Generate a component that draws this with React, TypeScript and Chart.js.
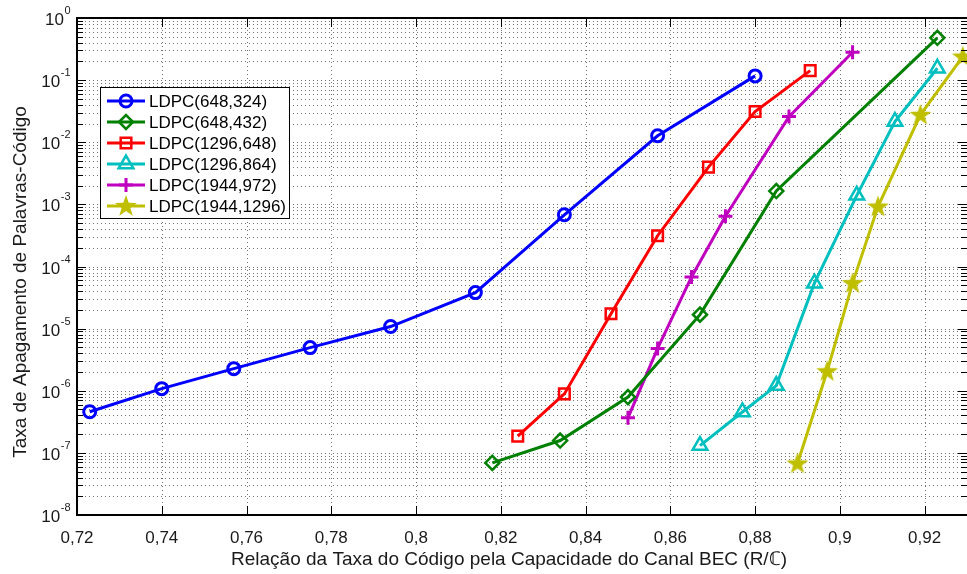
import React, { useEffect, useRef } from 'react';
import { Chart, registerables } from 'chart.js';
import { drawPoint } from 'chart.js/helpers';

Chart.register(...registerables);

const FONT = '"Liberation Sans", Arial, Helvetica, sans-serif';

const xMin = 0.72;
const xMax = 0.93;
const xTicks = [0.72, 0.74, 0.76, 0.78, 0.8, 0.82, 0.84, 0.86, 0.88, 0.9, 0.92];
const xTickLabels = ['0,72', '0,74', '0,76', '0,78', '0,8', '0,82', '0,84', '0,86', '0,88', '0,9', '0,92'];
const yExponents = [0, -1, -2, -3, -4, -5, -6, -7, -8];

const xTitle = 'Relação da Taxa do Código pela Capacidade do Canal BEC (R/ℂ)';
const yTitle = 'Taxa de Apagamento de Palavras-Código';

const seriesNames = [
  'LDPC(648,324)',
  'LDPC(648,432)',
  'LDPC(1296,648)',
  'LDPC(1296,864)',
  'LDPC(1944,972)',
  'LDPC(1944,1296)',
];

const x648_324 = [0.723, 0.74, 0.757, 0.775, 0.794, 0.814, 0.835, 0.857, 0.88];
const y648_324 = [4.6e-7, 1.08e-6, 2.27e-6, 4.95e-6, 1.08e-5, 3.8e-5, 6.8e-4, 1.27e-2, 0.117];

const x648_432 = [0.818, 0.834, 0.85, 0.867, 0.885, 0.923];
const y648_432 = [6.9e-8, 1.58e-7, 7.9e-7, 1.68e-5, 1.64e-3, 0.48];

const x1296_648 = [0.824, 0.835, 0.846, 0.857, 0.869, 0.88, 0.893];
const y1296_648 = [1.86e-7, 8.9e-7, 1.74e-5, 3.13e-4, 3.98e-3, 0.0312, 0.142];

const x1296_864 = [0.867, 0.877, 0.885, 0.894, 0.904, 0.913, 0.923];
const y1296_864 = [1.31e-7, 4.55e-7, 1.21e-6, 5.4e-5, 1.4e-3, 0.0215, 0.155];

const x1944_972 = [0.85, 0.857, 0.865, 0.873, 0.888, 0.903];
const y1944_972 = [3.67e-7, 4.8e-6, 6.8e-5, 6.46e-4, 0.0259, 0.281];

const x1944_1296 = [0.89, 0.897, 0.903, 0.909, 0.919, 0.929];
const y1944_1296 = [6.76e-8, 2.06e-6, 5.4e-5, 9.2e-4, 0.0276, 0.239];

const seriesX = [x648_324, x648_432, x1296_648, x1296_864, x1944_972, x1944_1296];
const seriesY = [y648_324, y648_432, y1296_648, y1296_864, y1944_972, y1944_1296];
const seriesColors = ['#0000ff', '#008000', '#ff0000', '#00bfbf', '#bf00bf', '#bfbf00'];

function makeStar(color: string): HTMLCanvasElement {
  const c = document.createElement('canvas');
  c.width = 24;
  c.height = 24;
  const g = c.getContext('2d')!;
  const cx = 12, cy = 12.5, R = 11.5, r = 4.6;
  g.beginPath();
  for (let i = 0; i < 10; i++) {
    const ang = -Math.PI / 2 + (i * Math.PI) / 5;
    const rad = i % 2 === 0 ? R : r;
    const px = cx + rad * Math.cos(ang);
    const py = cy + rad * Math.sin(ang);
    if (i === 0) g.moveTo(px, py);
    else g.lineTo(px, py);
  }
  g.closePath();
  g.fillStyle = color;
  g.fill();
  return c;
}

export default function App() {
  const ref = useRef<HTMLCanvasElement>(null);

  useEffect(() => {
    document.body.style.margin = '0';
    const canvas = ref.current!;
    const star = makeStar(seriesColors[5]);

    const pointStyles: any[] = ['circle', 'rectRot', 'rect', 'triangle', 'cross', star];
    const pointRadii = [6, 7, 7.5, 8.5, 7, 11];
    const pointBorders = [3, 2.5, 2.5, 2.5, 3, 1];

    const datasets = seriesNames.map((name, i) => ({
      label: name,
      data: seriesX[i].map((xv, j) => ({ x: xv, y: seriesY[i][j] })),
      showLine: true,
      borderColor: seriesColors[i],
      backgroundColor: 'rgba(0,0,0,0)',
      borderWidth: 3,
      pointStyle: pointStyles[i],
      pointRadius: pointRadii[i],
      pointBorderWidth: pointBorders[i],
      pointBorderColor: seriesColors[i],
      pointBackgroundColor: 'rgba(0,0,0,0)',
      tension: 0,
    }));

    const axesPlugin = {
      id: 'matlabAxes',
      beforeDatasetsDraw(chart: any) {
        const { ctx, chartArea: a, scales } = chart;
        const xs = scales.x, ys = scales.y;
        ctx.save();
        ctx.lineWidth = 1;
        ctx.setLineDash([1, 3]);
        ctx.strokeStyle = 'rgba(0,0,0,0.55)';
        for (const t of xTicks) {
          const px = Math.round(xs.getPixelForValue(t)) + 0.5;
          if (px <= a.left + 2) continue;
          ctx.beginPath();
          ctx.moveTo(px, a.top);
          ctx.lineTo(px, a.bottom);
          ctx.stroke();
        }
        for (let e = -8; e <= -1; e++) {
          for (let k = 1; k <= 9; k++) {
            if (e === -8 && k === 1) continue;
            const v = k * Math.pow(10, e);
            const py = Math.round(ys.getPixelForValue(v)) + 0.5;
            ctx.beginPath();
            ctx.moveTo(a.left, py);
            ctx.lineTo(a.right, py);
            ctx.stroke();
          }
        }
        ctx.restore();
      },
      afterDatasetsDraw(chart: any) {
        const { ctx, chartArea: a, scales } = chart;
        const xs = scales.x, ys = scales.y;
        ctx.save();
        ctx.setLineDash([]);
        // ticks
        ctx.strokeStyle = '#000';
        ctx.lineWidth = 1;
        for (const t of xTicks) {
          const px = Math.round(xs.getPixelForValue(t)) + 0.5;
          ctx.beginPath();
          ctx.moveTo(px, a.bottom);
          ctx.lineTo(px, a.bottom - 9);
          ctx.moveTo(px, a.top);
          ctx.lineTo(px, a.top + 9);
          ctx.stroke();
        }
        for (let e = -8; e <= 0; e++) {
          for (let k = 1; k <= 9; k++) {
            if (e === 0 && k > 1) continue;
            const v = k * Math.pow(10, e);
            const py = Math.round(ys.getPixelForValue(v)) + 0.5;
            const len = k === 1 ? 9 : 6;
            ctx.beginPath();
            ctx.moveTo(a.left, py);
            ctx.lineTo(a.left + len, py);
            ctx.moveTo(a.right, py);
            ctx.lineTo(a.right - len, py);
            ctx.stroke();
          }
        }
        // frame
        ctx.lineWidth = 2;
        ctx.beginPath();
        ctx.moveTo(a.right, a.top);
        ctx.lineTo(a.left, a.top);
        ctx.lineTo(a.left, a.bottom);
        ctx.lineTo(a.right, a.bottom);
        ctx.stroke();

        // x tick labels
        ctx.fillStyle = '#1a1a1a';
        ctx.font = `17px ${FONT}`;
        ctx.textAlign = 'center';
        ctx.textBaseline = 'alphabetic';
        xTicks.forEach((t, i) => {
          const px = xs.getPixelForValue(t);
          ctx.fillText(xTickLabels[i], px, 543);
        });

        // y tick labels
        ctx.textAlign = 'left';
        for (const e of yExponents) {
          const py = ys.getPixelForValue(Math.pow(10, e));
          ctx.font = `17px ${FONT}`;
          const w10 = ctx.measureText('10').width;
          ctx.font = `11px ${FONT}`;
          const expText = e === 0 ? '0' : '-' + String(-e);
          const we = ctx.measureText(expText).width;
          const right = 70;
          const left = right - we - w10;
          ctx.font = `17px ${FONT}`;
          ctx.fillText('10', left, py + 7);
          ctx.font = `11px ${FONT}`;
          ctx.fillText(expText, left + w10 + 0.5, py - 4);
        }

        // titles
        ctx.font = `19px ${FONT}`;
        ctx.textAlign = 'center';
        ctx.fillText(xTitle, 509, 565);
        ctx.save();
        ctx.translate(26, 282);
        ctx.rotate(-Math.PI / 2);
        ctx.fillText(yTitle, 0, 0);
        ctx.restore();

        // legend
        const lx = 100, ly = 87, lw = 189, lh = 131;
        ctx.fillStyle = '#fff';
        ctx.fillRect(lx, ly, lw, lh);
        ctx.strokeStyle = '#000';
        ctx.lineWidth = 1;
        ctx.strokeRect(lx + 0.5, ly + 0.5, lw, lh);
        seriesNames.forEach((name, i) => {
          const ry = 101 + i * 21;
          ctx.strokeStyle = seriesColors[i];
          ctx.lineWidth = 3;
          ctx.beginPath();
          ctx.moveTo(107, ry);
          ctx.lineTo(145, ry);
          ctx.stroke();
          ctx.fillStyle = 'rgba(0,0,0,0)';
          ctx.strokeStyle = seriesColors[i];
          ctx.lineWidth = pointBorders[i];
          drawPoint(ctx, {
            pointStyle: pointStyles[i],
            rotation: 0,
            radius: pointRadii[i],
            borderWidth: pointBorders[i],
          } as any, 126, ry);
          ctx.fillStyle = '#000';
          ctx.font = `17px ${FONT}`;
          ctx.textAlign = 'left';
          ctx.fillText(name, 149, ry + 6);
        });
        ctx.restore();
      },
    };

    const chart = new Chart(canvas, {
      type: 'scatter',
      data: { datasets: datasets as any },
      options: {
        animation: false,
        responsive: false,
        devicePixelRatio: 1,
        events: [],
        layout: { autoPadding: false, padding: { top: 18, left: 0, right: 0, bottom: 0 } },
        plugins: {
          legend: { display: false },
          title: { display: false },
          tooltip: { enabled: false },
        },
        scales: {
          x: {
            type: 'linear',
            min: xMin,
            max: xMax,
            grid: { display: false },
            border: { display: false },
            ticks: { display: false },
            afterFit: (s: any) => { s.height = 59; },
          },
          y: {
            type: 'logarithmic',
            min: 1e-8,
            max: 1,
            grid: { display: false },
            border: { display: false },
            ticks: { display: false },
            afterFit: (s: any) => { s.width = 77; },
          },
        },
      },
      plugins: [axesPlugin],
    });

    return () => chart.destroy();
  }, []);

  return (
    <canvas
      ref={ref}
      width={967}
      height={574}
      style={{ display: 'block', width: '967px', height: '574px' }}
    />
  );
}
